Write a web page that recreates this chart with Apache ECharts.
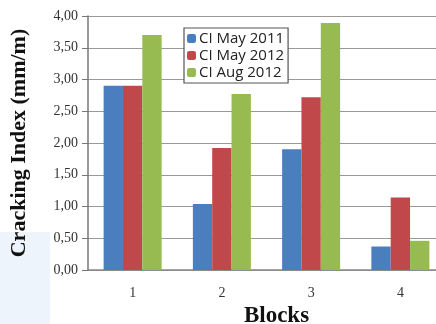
<!DOCTYPE html>
<html><head><meta charset="utf-8">
<script src="https://cdn.jsdelivr.net/npm/echarts@6/dist/echarts.min.js"></script>
<style>html,body{margin:0;padding:0;background:#fff}#c{width:436px;height:324px}</style>
</head><body><div id="c"></div>
<script>
const categories = ['1', '2', '3', '4'];
const ciMay2011 = [2.90, 1.04, 1.90, 0.37];
const ciMay2012 = [2.90, 1.92, 2.72, 1.14];
const ciAug2012 = [3.70, 2.77, 3.89, 0.46];
const seriesNames = ['CI May 2011', 'CI May 2012', 'CI Aug 2012'];
const yTicks = [0, 0.5, 1, 1.5, 2, 2.5, 3, 3.5, 4];

const chart = echarts.init(document.getElementById('c'));
const serif = 'Liberation Serif';
chart.setOption({
  animation: false,
  backgroundColor: '#fff',
  graphic: [{type:'rect', z:-10, shape:{x:0,y:232,width:50,height:92}, style:{fill:'#eef4fb'}}],
  grid: {left: 88, width: 357, top: 16, height: 254, containLabel: false, outerBoundsMode: 'none'},
  legend: {
    data: seriesNames, orient: 'vertical', left: 184, top: 28,
    itemWidth: 9, itemHeight: 9, itemGap: 2,
    backgroundColor: '#fff', borderColor: '#555', borderWidth: 1.2,
    padding: [3, 4, 3, 3],
    textStyle: {fontFamily: 'Open Sans', fontSize: 15, color: '#222', padding: [0,0,0,-2]}
  },
  xAxis: {
    type: 'category', data: categories,
    name: 'Blocks', nameLocation: 'middle', nameGap: 32,
    nameTextStyle: {fontFamily: serif, fontWeight: 'bold', fontSize: 23, color: '#111', padding:[0,0,0,20]},
    axisLine: {lineStyle: {color: '#888', width: 1.5}},
    axisTick: {show: false},
    axisLabel: {fontFamily: serif, fontSize: 14, color: '#333', margin: 16}
  },
  yAxis: {
    type: 'value', min: 0, max: 4, interval: 0.5,
    name: 'Cracking Index (mm/m)', nameLocation: 'middle', nameGap: 58,
    nameTextStyle: {fontFamily: serif, fontWeight: 'bold', fontSize: 22, color: '#111'},
    axisLine: {show: true, lineStyle: {color: '#777', width: 1.5}},
    axisTick: {show: true, length: 6, lineStyle: {color: '#777'}},
    splitLine: {lineStyle: {color: '#999', width: 1.2}},
    axisLabel: {fontFamily: serif, fontSize: 14, color: '#333', margin: 10,
      formatter: v => v.toFixed(2).replace('.', ',')}
  },
  series: [
    {name: seriesNames[0], type: 'bar', data: ciMay2011, itemStyle: {color: '#4a7ebf'}, barGap: '0%', barCategoryGap: '35%'},
    {name: seriesNames[1], type: 'bar', data: ciMay2012, itemStyle: {color: '#c0484a'}},
    {name: seriesNames[2], type: 'bar', data: ciAug2012, itemStyle: {color: '#97bb50'}}
  ]
});
</script></body></html>
